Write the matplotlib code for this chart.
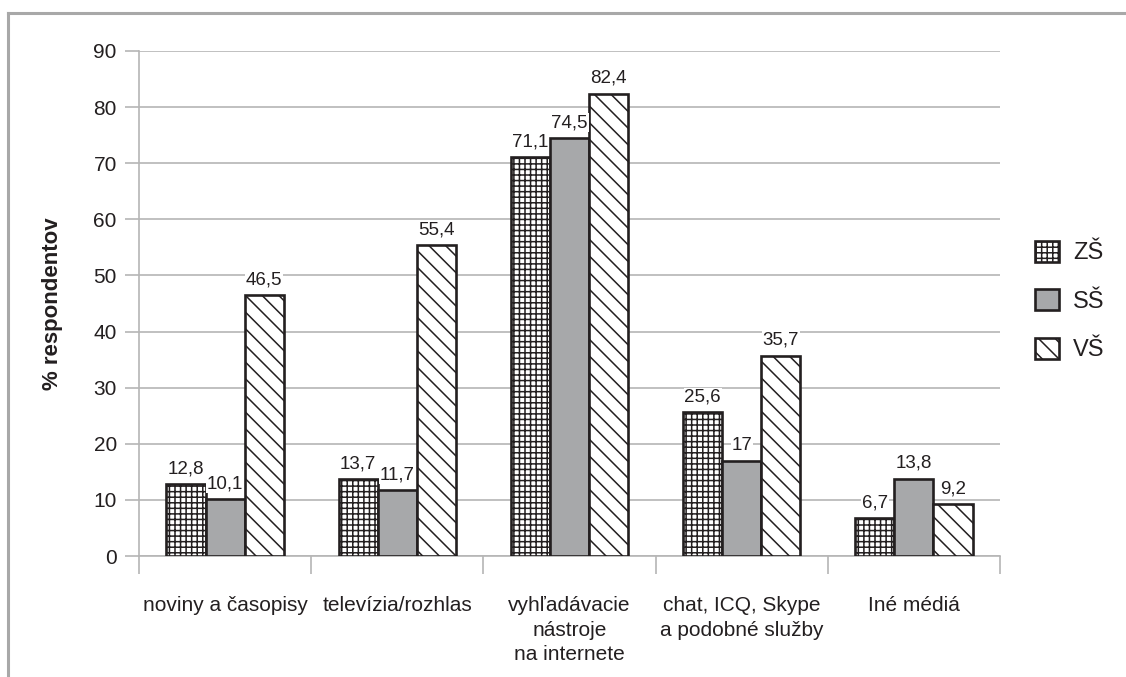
import matplotlib.pyplot as plt
import numpy as np

categories = ["noviny a časopisy", "televízia/rozhlas",
              "vyhľadávacie\nnástroje\nna internete",
              "chat, ICQ, Skype\na podobné služby", "Iné médiá"]
series = ["ZŠ", "SŠ", "VŠ"]
zs = [12.8, 13.7, 71.1, 25.6, 6.7]
ss = [10.1, 11.7, 74.5, 17, 13.8]
vs = [46.5, 55.4, 82.4, 35.7, 9.2]
yticks = [0, 10, 20, 30, 40, 50, 60, 70, 80, 90]

plt.rcParams['font.family'] = ['Liberation Sans', 'DejaVu Sans']
plt.rcParams['hatch.linewidth'] = 1.1

txt = '#231f20'
grid_c = '#b5b5b5'

fig = plt.figure(figsize=(11.26, 6.77), dpi=100)
ax = fig.add_axes([139/1126, 1-556/677, 861/1126, 505/677])

x = np.arange(len(categories))
w = 0.227
styles = [dict(color='white', hatch='+++'),
          dict(color='#a7a8aa', hatch=None),
          dict(color='white', hatch='\\\\')]
for i, (name, vals) in enumerate(zip(series, [zs, ss, vs])):
    bars = ax.bar(x + (i-1)*w, vals, w, facecolor=styles[i]['color'],
                  hatch=styles[i]['hatch'], edgecolor='#231f20',
                  linewidth=1.9, label=name, zorder=3)
    for b, v in zip(bars, vals):
        lab = str(v).replace('.', ',')
        ax.text(b.get_x() + b.get_width()/2, v + 1.2, lab, ha='center',
                va='bottom', fontsize=13.5, color=txt,
                bbox=dict(facecolor='white', edgecolor='none', pad=0.5),
                zorder=4)

ax.set_ylim(0, 90)
ax.set_xlim(-0.5, len(categories)-0.5)
ax.set_yticks(yticks)
ax.yaxis.grid(True, color=grid_c, linewidth=1.2, zorder=0)
ax.set_axisbelow(True)
ax.tick_params(axis='y', length=10, width=1.2, color=grid_c, pad=6,
               labelsize=15, labelcolor=txt)
ax.set_xticks(x)
ax.set_xticklabels(categories, fontsize=15, color=txt, linespacing=1.35,
                   va='top')
ax.tick_params(axis='x', which='major', length=0, pad=29)
ax.set_xticks(np.arange(-0.5, len(categories)), minor=True)
ax.tick_params(axis='x', which='minor', length=13, width=1.2, color=grid_c)

for s in ['top', 'right']:
    ax.spines[s].set_visible(False)
for s in ['left', 'bottom']:
    ax.spines[s].set_color(grid_c)
    ax.spines[s].set_linewidth(1.2)

ax.set_ylabel('% respondentov', fontsize=16, fontweight='bold', color=txt)
ax.yaxis.set_label_coords(-0.0883, 0.5)

ax.legend(loc='center left', bbox_to_anchor=(1.016, 0.505), frameon=False,
          fontsize=17, handlelength=1.0, handleheight=1.0, labelspacing=1.05,
          handletextpad=0.6, labelcolor=txt)

# outer frame lines
fig.add_artist(plt.Line2D([8/1126, 1], [1-13/677, 1-13/677],
                          color='#a8a8a8', linewidth=2.2))
fig.add_artist(plt.Line2D([8/1126, 8/1126], [0, 1-13/677],
                          color='#a8a8a8', linewidth=2.2))

fig.savefig('out.png', dpi=100)
